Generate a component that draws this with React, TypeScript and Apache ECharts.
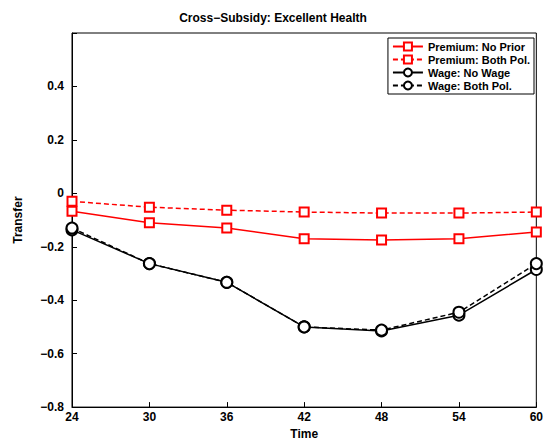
import * as echarts from 'echarts';
import { useEffect, useRef } from 'react';

const times = [24, 30, 36, 42, 48, 54, 60];
const premiumNoPrior = [-0.067, -0.11, -0.13, -0.17, -0.175, -0.17, -0.145];
const premiumBoth = [-0.03, -0.052, -0.063, -0.07, -0.074, -0.074, -0.07];
const wageNoWage = [-0.137, -0.263, -0.333, -0.5, -0.515, -0.456, -0.285];
const wageBoth = [-0.13, -0.263, -0.333, -0.5, -0.512, -0.445, -0.263];

const font = 'Liberation Sans, Arial, sans-serif';

const App = () => {
    const chartRef = useRef<HTMLDivElement>(null);

    useEffect(() => {
        document.body.style.margin = '0';
        document.body.style.overflow = 'hidden';
        if (!chartRef.current) return;
        const chart = echarts.init(chartRef.current, undefined, { renderer: 'svg' });
        const mk = (name: string, data: number[], color: string, dashed: boolean, symbol: string) => ({
            name,
            type: 'line',
            data: times.map((t, i) => [t, data[i]]),
            symbol,
            symbolSize: symbol === 'emptyCircle' ? 11 : 9,
            lineStyle: { color, width: 1.5, type: dashed ? [5, 3] : 'solid' },
            itemStyle: { color, borderWidth: 1.5 },
        });
        chart.setOption({
            animation: false,
            title: {
                text: 'Cross\u2212Subsidy: Excellent Health',
                left: 'center',
                top: 7,
                textStyle: { fontFamily: font, fontSize: 12, fontWeight: 'bold', color: '#000' },
            },
            legend: {
                right: 12,
                top: 38,
                orient: 'vertical',
                backgroundColor: '#fff',
                borderColor: '#000',
                borderWidth: 1,
                padding: [3, 4],
                itemGap: 2,
                itemWidth: 30,
                itemHeight: 10,
                textStyle: { fontFamily: font, fontSize: 11, fontWeight: 'bold', color: '#000' },
            },
            grid: { left: 72, right: 9, top: 33, bottom: 31, show: true, borderColor: '#000', borderWidth: 1 },
            xAxis: {
                type: 'value',
                min: 24,
                max: 60,
                interval: 6,
                name: 'Time',
                nameLocation: 'middle',
                nameGap: 17,
                nameTextStyle: { fontFamily: font, fontSize: 12, fontWeight: 'bold', color: '#000' },
                axisLine: { onZero: false, lineStyle: { color: '#000' } },
                axisTick: { inside: true, length: 5, lineStyle: { color: '#000' } },
                axisLabel: { fontFamily: font, fontSize: 12, fontWeight: 'bold', color: '#000', margin: 4 },
                splitLine: { show: false },
            },
            yAxis: {
                type: 'value',
                min: -0.8,
                max: 0.6,
                interval: 0.2,
                name: 'Transfer',
                nameLocation: 'middle',
                nameGap: 48,
                nameTextStyle: { fontFamily: font, fontSize: 12, fontWeight: 'bold', color: '#000' },
                axisLine: { onZero: false, lineStyle: { color: '#000' } },
                axisTick: { inside: true, length: 5, lineStyle: { color: '#000' } },
                axisLabel: {
                    fontFamily: font, fontSize: 12, fontWeight: 'bold', color: '#000',
                    formatter: (v: number) => {
                        if (Math.abs(v - 0.6) < 1e-6) return '';
                        if (Math.abs(v) < 1e-6) return '0';
                        return (v < 0 ? '\u2212' : '') + Math.abs(v).toFixed(1);
                    },
                },
                splitLine: { show: false },
            },
            series: [
                mk('Premium: No Prior', premiumNoPrior, '#ff0000', false, 'emptyRect'),
                mk('Premium: Both Pol.', premiumBoth, '#ff0000', true, 'emptyRect'),
                mk('Wage: No Wage', wageNoWage, '#000000', false, 'emptyCircle'),
                mk('Wage: Both Pol.', wageBoth, '#000000', true, 'emptyCircle'),
            ],
        });
        return () => chart.dispose();
    }, []);

    return <div ref={chartRef} style={{ width: 546, height: 445 }} />;
};

export default App;
